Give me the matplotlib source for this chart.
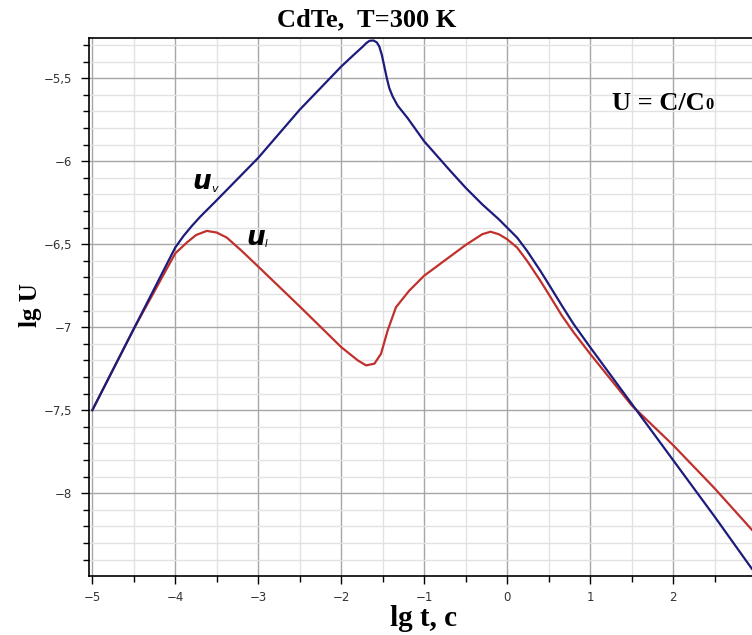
import matplotlib
matplotlib.use('Agg')
import matplotlib.pyplot as plt
from matplotlib.ticker import MultipleLocator, FuncFormatter

# ---------------- data ----------------
# u_v (blue)
lgt_v = [-5.0, -4.5, -4.0, -3.9, -3.8, -3.7, -3.5, -3.0, -2.5, -2.0, -1.85, -1.74,
         -1.70, -1.66, -1.61, -1.57, -1.54, -1.51, -1.48, -1.45, -1.42, -1.38, -1.32,
         -1.2, -1.0, -0.7, -0.5, -0.3, -0.1, 0.0, 0.12, 0.24, 0.4, 0.5, 0.66, 0.8,
         1.0, 1.5, 2.0, 2.5, 2.95]
lgu_v = [-7.50, -7.01, -6.52, -6.45, -6.39, -6.335, -6.235, -5.98, -5.69, -5.43, -5.36, -5.31,
         -5.29, -5.275, -5.273, -5.285, -5.31, -5.36, -5.43, -5.50, -5.56, -5.61, -5.665,
         -5.74, -5.88, -6.05, -6.16, -6.26, -6.35, -6.40, -6.46, -6.54, -6.66, -6.74, -6.87, -6.98,
         -7.12, -7.46, -7.80, -8.14, -8.455]

# u_I (red)
lgt_i = [-5.0, -4.5, -4.0, -3.86, -3.75, -3.62, -3.5, -3.38, -3.2, -3.0,
         -2.5, -2.0, -1.80, -1.70, -1.60, -1.52, -1.44, -1.34, -1.18, -1.0,
         -0.5, -0.3, -0.2, -0.1, 0.0, 0.12, 0.24, 0.4, 0.5, 0.66, 0.8, 1.0,
         1.5, 2.0, 2.5, 2.95]
lgu_i = [-7.50, -7.01, -6.555, -6.49, -6.445, -6.42, -6.43, -6.46, -6.54, -6.635,
         -6.875, -7.12, -7.20, -7.23, -7.22, -7.16, -7.02, -6.88, -6.78, -6.69,
         -6.505, -6.44, -6.425, -6.44, -6.47, -6.52, -6.60, -6.72, -6.80, -6.93, -7.03, -7.16,
         -7.47, -7.71, -7.97, -8.22]

serif = 'Liberation Serif'

fig = plt.figure(figsize=(7.52, 6.35), dpi=100)
ax = fig.add_axes([89 / 752, 1 - 575.7 / 635, 1 - 89 / 752, (575.7 - 38) / 635])

ax.plot(lgt_i, lgu_i, color='#c0302c', lw=1.6, zorder=3)
ax.plot(lgt_v, lgu_v, color='#1c1c7c', lw=1.6, zorder=4)

ax.set_xlim(-5.04, 2.952)
ax.set_ylim(-8.497, -5.258)

ax.xaxis.set_major_locator(MultipleLocator(1))
ax.xaxis.set_minor_locator(MultipleLocator(0.5))
ax.yaxis.set_major_locator(MultipleLocator(0.5))
ax.yaxis.set_minor_locator(MultipleLocator(0.1))

def fmt(v, pos):
    s = ('%g' % round(v, 2)).replace('.', ',')
    return s.replace('-', '\u2212')

ax.xaxis.set_major_formatter(FuncFormatter(fmt))
ax.yaxis.set_major_formatter(FuncFormatter(fmt))

ax.grid(which='major', color='#a6a6a6', lw=1.0)
ax.grid(which='minor', color='#e2e2e2', lw=1.0)
ax.set_axisbelow(True)

ax.tick_params(which='major', direction='out', length=6, width=1, labelsize=8.5,
               labelcolor='#333333', pad=6)
ax.tick_params(which='minor', direction='out', length=4, width=1)
ax.tick_params(axis='x', which='both', top=False, pad=5)
ax.tick_params(axis='y', which='both', right=False)

for s in ['left', 'bottom', 'top']:
    ax.spines[s].set_color('black')
    ax.spines[s].set_linewidth(1.2)
ax.spines['right'].set_visible(False)

# curve labels
t1 = ax.text(-3.68, -6.128, 'u', fontsize=19, fontweight='heavy', style='italic',
             ha='center', va='center', color='black')
ax.annotate('v', xy=(1, 0.05), xycoords=t1, fontsize=8, style='italic',
            ha='left', va='bottom', color='black')
t2 = ax.text(-3.03, -6.46, 'u', fontsize=19, fontweight='heavy', style='italic',
             ha='center', va='center', color='black')
ax.annotate('I', xy=(1, 0.05), xycoords=t2, fontsize=7, style='italic',
            ha='left', va='bottom', color='black')

t3 = ax.text(1.265, -5.693, 'U = C/C', fontsize=19, fontweight='bold', family=serif,
             ha='left', va='baseline', color='black')
ax.annotate('0', xy=(1, 0.0), xycoords=t3, fontsize=12, fontweight='bold', family=serif,
            ha='left', va='bottom', color='black', xytext=(0.5, 1.5),
            textcoords='offset points')

fig.text(0.488, 1 - 20 / 635, 'CdTe,  T=300 K', fontsize=19, fontweight='bold',
         family=serif, ha='center', va='center')
fig.text(424 / 752, 1 - 619 / 635, 'lg t, c', fontsize=21, fontweight='bold',
         family=serif, ha='center', va='center')
fig.text(30 / 752, 1 - 305 / 635, 'lg U', fontsize=18, fontweight='bold',
         family=serif, ha='center', va='center', rotation=90)

fig.savefig('out.png', dpi=100)
